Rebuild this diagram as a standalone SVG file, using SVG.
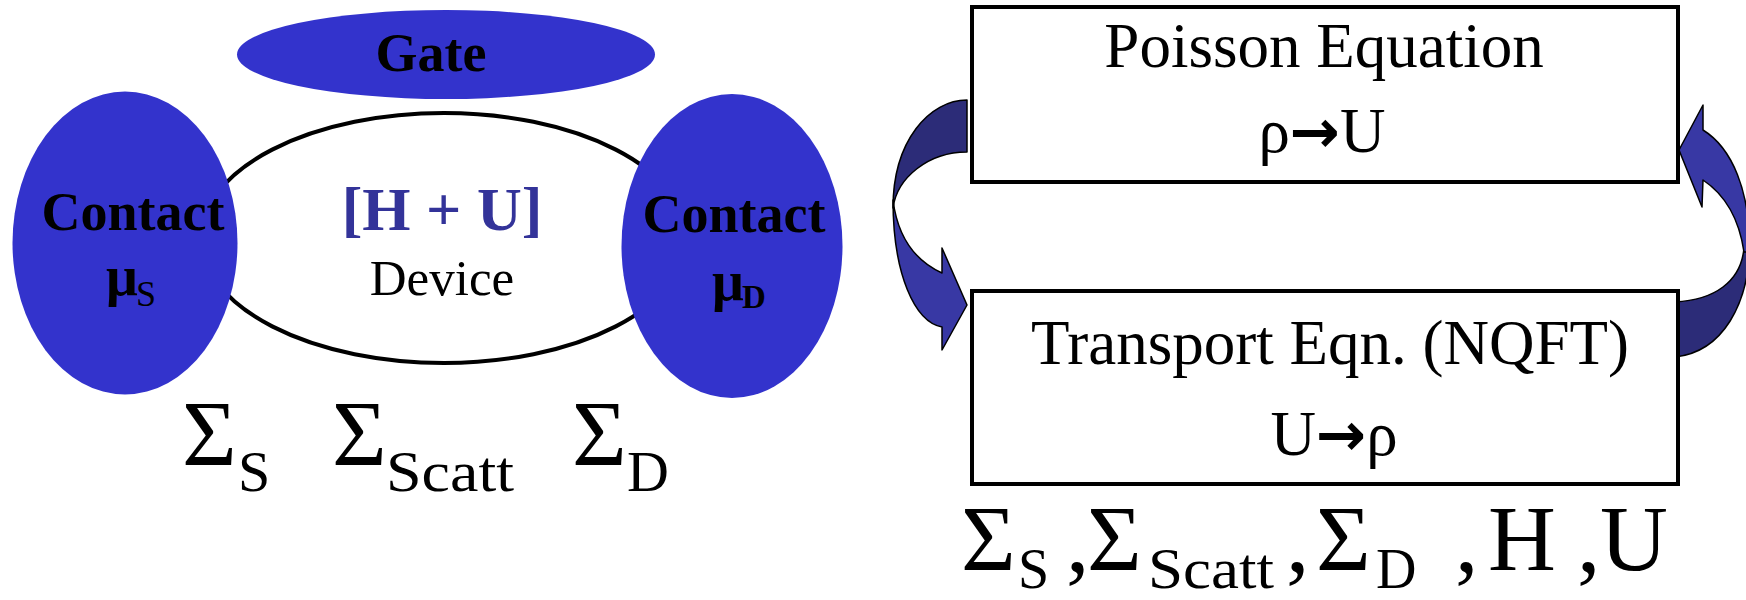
<svg xmlns="http://www.w3.org/2000/svg" width="1746" height="600" viewBox="0 0 1746 600">
<style>
.blue{fill:#3333CC}
.serif{font-family:"Liberation Serif","Times New Roman",serif}
.b{font-weight:bold}
.box{fill:#ffffff;stroke:#000000;stroke-width:4}
.dark{fill:#2C2C78;stroke:#000000;stroke-width:1.5;stroke-linejoin:round}
.light{fill:#3838A4;stroke:#000000;stroke-width:1.5;stroke-linejoin:round}
.arr{font-family:"DejaVu Sans",sans-serif;font-weight:bold}
</style>
<rect width="1746" height="600" fill="#ffffff"/>
<g id="device">
<ellipse cx="444" cy="238" rx="243" ry="125" fill="#ffffff" stroke="#000000" stroke-width="4"/>
<text class="serif b" x="442" y="230" font-size="62" fill="#333399" text-anchor="middle">[H + U]</text>
<text class="serif" x="442" y="295" font-size="51" text-anchor="middle">Device</text>
</g>
<g id="gate">
<ellipse class="blue" cx="446" cy="54.5" rx="209" ry="44.5"/>
<text class="serif b" x="431" y="71" font-size="54" text-anchor="middle">Gate</text>
</g>
<g id="contact-source">
<ellipse class="blue" cx="125" cy="243" rx="112.5" ry="151.5"/>
<text class="serif b" x="133" y="230" font-size="54" text-anchor="middle">Contact</text>
<text class="serif" y="295"><tspan class="b" x="106" font-size="56">μ</tspan><tspan x="136" y="306" font-size="36">S</tspan></text>
</g>
<g id="contact-drain">
<ellipse class="blue" cx="732" cy="246" rx="110.5" ry="152"/>
<text class="serif b" x="734" y="232" font-size="54" text-anchor="middle">Contact</text>
<text class="serif b" y="300"><tspan x="712" font-size="56">μ</tspan><tspan x="742" y="308" font-size="33">D</tspan></text>
</g>
<g id="self-energies">
<text class="serif" font-size="94" x="182" y="465">Σ</text>
<text class="serif" font-size="58" x="238" y="491">S</text>
<text class="serif" font-size="94" x="332" y="465">Σ</text>
<text class="serif" font-size="58" x="386" y="491" textLength="128" lengthAdjust="spacingAndGlyphs">Scatt</text>
<text class="serif" font-size="94" x="572" y="465">Σ</text>
<text class="serif" font-size="58" x="627" y="491">D</text>
</g>
<g id="connectors">
<path class="dark" d="M967,100 C930,100 893,140 893,208 C897,178 928,152 967,152 Z"/>
<path class="light" d="M893,200 C893,275 915,322 942,327 L942,350 L967,305 L942,248 L942,273 C918,262 898,240 893,200 Z"/>
<path class="dark" d="M1744,248 C1741,282 1714,300 1675,302 L1675,357 C1722,352 1750,305 1750,240 Z"/>
<path class="light" d="M1703,130 L1703,105 L1679,150 L1702,207 L1703,180 C1724,194 1739,218 1744,252 L1750,252 C1750,190 1732,148 1703,130 Z"/>
</g>
<g id="poisson">
<rect class="box" x="972" y="7" width="706" height="175"/>
<text class="serif" x="1324" y="67" font-size="63" text-anchor="middle">Poisson Equation</text>
<text class="serif" x="1322" y="152" font-size="63" text-anchor="middle">ρ<tspan class="arr" font-size="60">→</tspan>U</text>
</g>
<g id="transport">
<rect class="box" x="972" y="291" width="706" height="193"/>
<text class="serif" x="1330" y="364" font-size="63" text-anchor="middle">Transport Eqn. (NQFT)</text>
<text class="serif" x="1334" y="455" font-size="63" text-anchor="middle">U<tspan class="arr" font-size="60">→</tspan>ρ</text>
</g>
<g id="inputs">
<text class="serif" font-size="94" x="961" y="570">Σ</text>
<text class="serif" font-size="56" x="1018" y="588">S</text>
<text class="serif" font-size="94" x="1066" y="572">,</text>
<text class="serif" font-size="94" x="1087" y="570">Σ</text>
<text class="serif" font-size="56" x="1148" y="588" textLength="126" lengthAdjust="spacingAndGlyphs">Scatt</text>
<text class="serif" font-size="94" x="1286" y="572">,</text>
<text class="serif" font-size="94" x="1316" y="570">Σ</text>
<text class="serif" font-size="56" x="1376" y="588">D</text>
<text class="serif" font-size="94" x="1455" y="572">,</text>
<text class="serif" font-size="94" x="1488" y="570">H</text>
<text class="serif" font-size="94" x="1577" y="572">,</text>
<text class="serif" font-size="94" x="1600" y="570">U</text>
</g>
</svg>
